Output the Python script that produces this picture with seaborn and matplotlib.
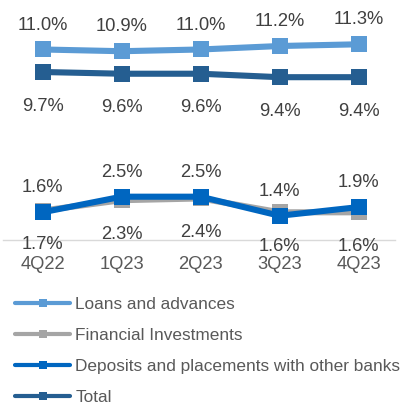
import matplotlib
matplotlib.use("Agg")
import matplotlib.pyplot as plt
from matplotlib.lines import Line2D
import seaborn as sns
import pandas as pd

quarters = ["4Q22", "1Q23", "2Q23", "3Q23", "4Q23"]
loans = [11.0, 10.9, 11.0, 11.2, 11.3]
financial = [1.7, 2.3, 2.4, 1.6, 1.6]
deposits = [1.6, 2.5, 2.5, 1.4, 1.9]
total = [9.7, 9.6, 9.6, 9.4, 9.4]

series_names = ["Loans and advances", "Financial Investments",
                "Deposits and placements with other banks", "Total"]
series_values = [loans, financial, deposits, total]
colors = ["#5B9BD5", "#A5A5A5", "#0066C0", "#255E91"]
label_side = ["above", "below", "above", "below"]

sns.set_theme(style="white")
plt.rcParams["font.family"] = ["Liberation Sans", "DejaVu Sans"]

dpi = 100
fig = plt.figure(figsize=(4.0, 4.05), dpi=dpi)
ax = fig.add_axes([3 / 400, (405 - 240) / 405, 392 / 400, 13 * 17.32 / 405])

text_color = "#404040"
for name, vals, col, side in zip(series_names, series_values, colors, label_side):
    df = pd.DataFrame({"quarter": quarters, "value": vals})
    sns.lineplot(data=df, x="quarter", y="value", color=col, marker="s",
                 markersize=11, markeredgewidth=0, linewidth=4.4,
                 ax=ax, legend=False, clip_on=False)
    for i, v in enumerate(vals):
        dy = 17.6 if side == "above" else -24.5
        ax.annotate(f"{v:.1f}%", (i, v), xytext=(0, dy), textcoords="offset points",
                    ha="center", va="center", fontsize=13.2, color=text_color,
                    annotation_clip=False)

ax.set_xlim(-0.5, 4.46)
ax.set_ylim(0, 13)
ax.set_xticks(range(len(quarters)))
ax.set_xticklabels(quarters, fontsize=13.2, color="#595959")
ax.tick_params(axis="x", length=0, pad=11.5)
ax.set_yticks([])
ax.set_xlabel("")
ax.set_ylabel("")
for s in ["top", "left", "right"]:
    ax.spines[s].set_visible(False)
ax.spines["bottom"].set_color("#D9D9D9")
ax.spines["bottom"].set_linewidth(1.0)

handles = [Line2D([0], [0], color=c, linewidth=3.0, marker="s", markersize=6,
                  markeredgewidth=0) for c in colors]
fig.legend(handles, series_names, loc="upper left",
           bbox_to_anchor=(19 / 400 - 0.01, 1 - 297 / 405), frameon=False,
           fontsize=12.4, labelcolor="#595959", handlelength=3.2,
           handletextpad=0.3, labelspacing=0.93, borderaxespad=0, borderpad=0)

fig.savefig("out.png", dpi=dpi)
